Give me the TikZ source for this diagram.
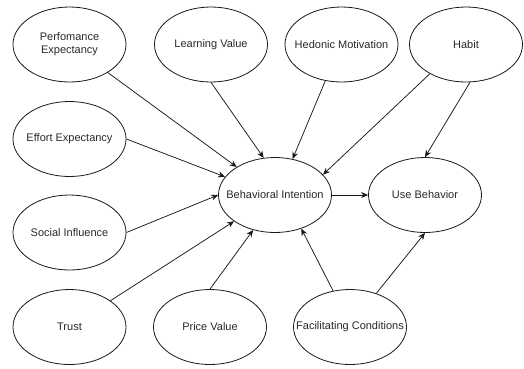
\documentclass[tikz,border=0pt]{standalone}
\usepackage{fontspec}
\setmainfont{Liberation Sans}
\usetikzlibrary{shapes.geometric,arrows.meta}
\definecolor{txt}{RGB}{40,40,40}
\definecolor{ln}{RGB}{25,25,25}
\tikzset{
  construct/.style={ellipse, draw=ln, line width=0.8pt, minimum width=113pt, minimum height=75pt,
    inner xsep=-35pt, inner ysep=0pt, font=\fontsize{11}{13}\selectfont, text=txt, align=center},
  link/.style={draw=ln, line width=0.75pt, -{Stealth[length=7pt,width=6pt]}}
}
\begin{document}
\begin{tikzpicture}[x=1pt,y=-1pt]
\useasboundingbox (0,0) rectangle (524,368);
\node[construct] (perf)  at (69.5,44.5) {Perfomance\\Expectancy};
\node[construct] (learn) at (211,44.5) {Learning Value};
\node[construct] (hed)   at (341.5,44.5) {Hedonic Motivation};
\node[construct] (habit) at (466,44.5) {Habit};
\node[construct] (eff)   at (69.5,139) {Effort Expectancy};
\node[construct] (soc)   at (69.5,232.5) {Social Influence};
\node[construct] (trust) at (69.5,327) {Trust};
\node[construct] (bi)    at (275,195) {Behavioral Intention};
\node[construct] (ub)    at (425,195) {Use Behavior};
\node[construct] (price) at (210,327) {Price Value};
\node[construct] (fac)   at (350,327) {Facilitating Conditions};

\draw[link] (perf) -- (bi);
\draw[link] (learn.south) -- (bi.107);
\draw[link] (hed.-114) -- (bi.64);
\draw[link] (habit.-141) -- (bi.23);
\draw[link] (habit.-84) -- (ub.north);
\draw[link] (eff.east) -- (bi.160);
\draw[link] (soc.east) -- (bi.west);
\draw[link] (trust) -- (bi);
\draw[link] (price.north) -- (bi.-122);
\draw[link] (fac.115) -- (bi.-52);
\draw[link] (fac.52) -- (ub.south);
\draw[link] (bi.east) -- (ub.west);
\end{tikzpicture}
\end{document}
